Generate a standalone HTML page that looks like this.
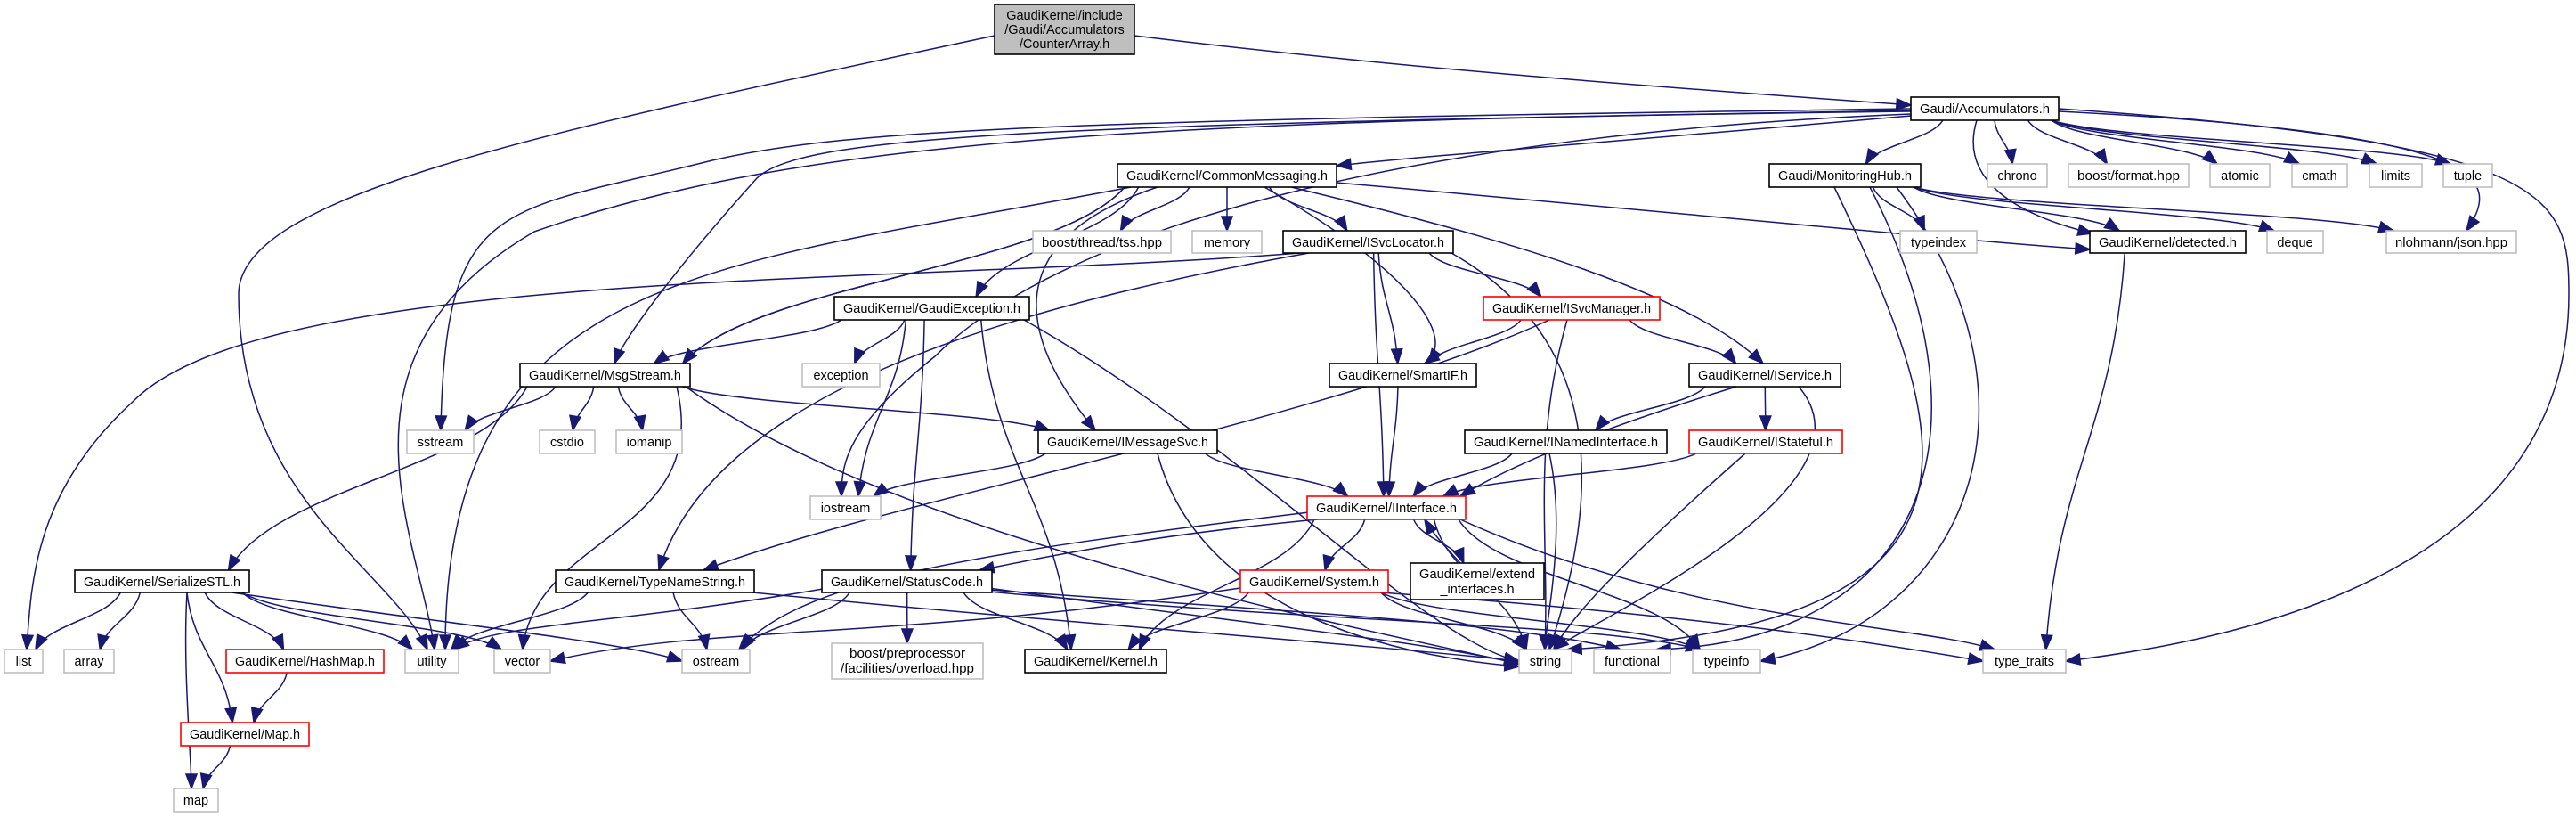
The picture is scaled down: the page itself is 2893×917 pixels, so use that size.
<!DOCTYPE html>
<html><head><meta charset="utf-8"><style>
html,body{margin:0;padding:0;background:#fff;}
svg{display:block;}
text{font-family:"Liberation Sans","DejaVu Sans",sans-serif;font-size:14.5px;fill:#000;}
.n rect{fill:#fff;stroke:#000;stroke-width:1.6;}
.e rect{fill:#fff;stroke:#bfbfbf;stroke-width:1.6;}
.r rect{fill:#fff;stroke:#ff0000;stroke-width:1.6;}
.g rect{fill:#bfbfbf;stroke:#000;stroke-width:1.6;}
</style></head><body>
<svg id="s" width="2893" height="917" viewBox="0 0 2893 917" xmlns="http://www.w3.org/2000/svg">
<g id="edges" fill="none" stroke="#191970" stroke-width="1.5"></g>
<g id="nodes" text-anchor="middle">
<g class="g"><rect x="1117" y="5" width="157" height="56"/><text x="1195.5" y="22">GaudiKernel/include</text><text x="1195.5" y="38">/Gaudi/Accumulators</text><text x="1195.5" y="54">/CounterArray.h</text></g>
<g class="n"><rect x="2146" y="109" width="166" height="26"/><text x="2229" y="127" textLength="146" lengthAdjust="spacingAndGlyphs">Gaudi/Accumulators.h</text></g>
<g class="n"><rect x="1255" y="184" width="246" height="26"/><text x="1378" y="202" textLength="226" lengthAdjust="spacingAndGlyphs">GaudiKernel/CommonMessaging.h</text></g>
<g class="n"><rect x="1987" y="184" width="170" height="26"/><text x="2072" y="202" textLength="150" lengthAdjust="spacingAndGlyphs">Gaudi/MonitoringHub.h</text></g>
<g class="e"><rect x="2232" y="184" width="67" height="26"/><text x="2265.5" y="202">chrono</text></g>
<g class="e"><rect x="2323" y="184" width="135" height="26"/><text x="2390.5" y="202" textLength="115" lengthAdjust="spacingAndGlyphs">boost/format.hpp</text></g>
<g class="e"><rect x="2482" y="184" width="67" height="26"/><text x="2515.5" y="202">atomic</text></g>
<g class="e"><rect x="2574" y="184" width="62" height="26"/><text x="2605" y="202">cmath</text></g>
<g class="e"><rect x="2661" y="184" width="59" height="26"/><text x="2690.5" y="202">limits</text></g>
<g class="e"><rect x="2744" y="184" width="55" height="26"/><text x="2771.5" y="202">tuple</text></g>
<g class="e"><rect x="1160" y="259" width="155" height="25"/><text x="1237.5" y="277" textLength="135" lengthAdjust="spacingAndGlyphs">boost/thread/tss.hpp</text></g>
<g class="e"><rect x="1339" y="259" width="78" height="25"/><text x="1378" y="277">memory</text></g>
<g class="n"><rect x="1441" y="259" width="191" height="25"/><text x="1536.5" y="277" textLength="171" lengthAdjust="spacingAndGlyphs">GaudiKernel/ISvcLocator.h</text></g>
<g class="e"><rect x="2134" y="259" width="86" height="25"/><text x="2177" y="277">typeindex</text></g>
<g class="n"><rect x="2347" y="259" width="175" height="25"/><text x="2434.5" y="277" textLength="155" lengthAdjust="spacingAndGlyphs">GaudiKernel/detected.h</text></g>
<g class="e"><rect x="2546" y="259" width="63" height="25"/><text x="2577.5" y="277">deque</text></g>
<g class="e"><rect x="2680" y="259" width="146" height="25"/><text x="2753" y="277" textLength="126" lengthAdjust="spacingAndGlyphs">nlohmann/json.hpp</text></g>
<g class="n"><rect x="937" y="333" width="219" height="26"/><text x="1046.5" y="351" textLength="199" lengthAdjust="spacingAndGlyphs">GaudiKernel/GaudiException.h</text></g>
<g class="r"><rect x="1666" y="333" width="198" height="26"/><text x="1765" y="351" textLength="178" lengthAdjust="spacingAndGlyphs">GaudiKernel/ISvcManager.h</text></g>
<g class="n"><rect x="584" y="408" width="191" height="26"/><text x="679.5" y="426" textLength="171" lengthAdjust="spacingAndGlyphs">GaudiKernel/MsgStream.h</text></g>
<g class="e"><rect x="901" y="408" width="87" height="26"/><text x="944.5" y="426">exception</text></g>
<g class="n"><rect x="1493" y="408" width="165" height="26"/><text x="1575.5" y="426" textLength="145" lengthAdjust="spacingAndGlyphs">GaudiKernel/SmartIF.h</text></g>
<g class="n"><rect x="1897" y="408" width="170" height="26"/><text x="1982" y="426" textLength="150" lengthAdjust="spacingAndGlyphs">GaudiKernel/IService.h</text></g>
<g class="e"><rect x="457" y="483" width="75" height="26"/><text x="494.5" y="501">sstream</text></g>
<g class="e"><rect x="606" y="483" width="62" height="26"/><text x="637" y="501">cstdio</text></g>
<g class="e"><rect x="692" y="483" width="74" height="26"/><text x="729" y="501">iomanip</text></g>
<g class="n"><rect x="1166" y="483" width="201" height="26"/><text x="1266.5" y="501" textLength="181" lengthAdjust="spacingAndGlyphs">GaudiKernel/IMessageSvc.h</text></g>
<g class="n"><rect x="1645" y="483" width="227" height="26"/><text x="1758.5" y="501" textLength="207" lengthAdjust="spacingAndGlyphs">GaudiKernel/INamedInterface.h</text></g>
<g class="r"><rect x="1897" y="483" width="172" height="26"/><text x="1983" y="501" textLength="152" lengthAdjust="spacingAndGlyphs">GaudiKernel/IStateful.h</text></g>
<g class="e"><rect x="910" y="557" width="79" height="26"/><text x="949.5" y="575">iostream</text></g>
<g class="r"><rect x="1468" y="557" width="178" height="26"/><text x="1557" y="575" textLength="158" lengthAdjust="spacingAndGlyphs">GaudiKernel/IInterface.h</text></g>
<g class="n"><rect x="84" y="640" width="196" height="25"/><text x="182" y="658" textLength="176" lengthAdjust="spacingAndGlyphs">GaudiKernel/SerializeSTL.h</text></g>
<g class="n"><rect x="624" y="640" width="223" height="25"/><text x="735.5" y="658" textLength="203" lengthAdjust="spacingAndGlyphs">GaudiKernel/TypeNameString.h</text></g>
<g class="n"><rect x="923" y="640" width="191" height="25"/><text x="1018.5" y="658" textLength="171" lengthAdjust="spacingAndGlyphs">GaudiKernel/StatusCode.h</text></g>
<g class="r"><rect x="1393" y="640" width="166" height="25"/><text x="1476" y="658" textLength="146" lengthAdjust="spacingAndGlyphs">GaudiKernel/System.h</text></g>
<g class="n"><rect x="1584" y="632" width="150" height="41"/><text x="1659" y="649" textLength="130" lengthAdjust="spacingAndGlyphs">GaudiKernel/extend</text><text x="1659" y="666">_interfaces.h</text></g>
<g class="e"><rect x="5" y="729" width="43" height="26"/><text x="26.5" y="747">list</text></g>
<g class="e"><rect x="72" y="729" width="56" height="26"/><text x="100" y="747">array</text></g>
<g class="r"><rect x="254" y="729" width="177" height="26"/><text x="342.5" y="747" textLength="157" lengthAdjust="spacingAndGlyphs">GaudiKernel/HashMap.h</text></g>
<g class="e"><rect x="455" y="729" width="60" height="26"/><text x="485" y="747">utility</text></g>
<g class="e"><rect x="555" y="729" width="63" height="26"/><text x="586.5" y="747">vector</text></g>
<g class="e"><rect x="766" y="729" width="76" height="26"/><text x="804" y="747">ostream</text></g>
<g class="e"><rect x="934" y="722" width="170" height="40"/><text x="1019" y="738" textLength="130" lengthAdjust="spacingAndGlyphs">boost/preprocessor</text><text x="1019" y="755" textLength="150" lengthAdjust="spacingAndGlyphs">/facilities/overload.hpp</text></g>
<g class="n"><rect x="1151" y="729" width="159" height="26"/><text x="1230.5" y="747" textLength="139" lengthAdjust="spacingAndGlyphs">GaudiKernel/Kernel.h</text></g>
<g class="e"><rect x="1706" y="729" width="59" height="26"/><text x="1735.5" y="747">string</text></g>
<g class="e"><rect x="1790" y="729" width="86" height="26"/><text x="1833" y="747">functional</text></g>
<g class="e"><rect x="1901" y="729" width="76" height="26"/><text x="1939" y="747">typeinfo</text></g>
<g class="e"><rect x="2227" y="729" width="93" height="26"/><text x="2273.5" y="747">type_traits</text></g>
<g class="r"><rect x="203" y="811" width="144" height="26"/><text x="275" y="829" textLength="124" lengthAdjust="spacingAndGlyphs">GaudiKernel/Map.h</text></g>
<g class="e"><rect x="195" y="885" width="50" height="26"/><text x="220" y="903">map</text></g>
</g>
</svg>
<script>
var N={CA:[1117,1274,5,61],ACC:[2146,2312,109,135],CM:[1255,1501,184,210],MH:[1987,2157,184,210],chrono:[2232,2299,184,210],bfmt:[2323,2458,184,210],atomic:[2482,2549,184,210],cmath:[2574,2636,184,210],limits:[2661,2720,184,210],tuple:[2744,2799,184,210],
tss:[1160,1315,259,284],memory:[1339,1417,259,284],SL:[1441,1632,259,284],typeindex:[2134,2220,259,284],det:[2347,2522,259,284],deque:[2546,2609,259,284],json:[2680,2826,259,284],
GE:[937,1156,333,359],SM:[1666,1864,333,359],MS:[584,775,408,434],exc:[901,988,408,434],SI:[1493,1658,408,434],IS:[1897,2067,408,434],
sstream:[457,532,483,509],cstdio:[606,668,483,509],iomanip:[692,766,483,509],IMS:[1166,1367,483,509],INI:[1645,1872,483,509],IST:[1897,2069,483,509],
iostream:[910,989,557,583],II:[1468,1646,557,583],SSTL:[84,280,640,665],TNS:[624,847,640,665],SC:[923,1114,640,665],SYS:[1393,1559,640,665],EXT:[1584,1734,632,673],
list:[5,48,729,755],array:[72,128,729,755],HM:[254,431,729,755],utility:[455,515,729,755],vector:[555,618,729,755],ostream:[766,842,729,755],bpp:[934,1104,722,762],KER:[1151,1310,729,755],
string:[1706,1765,729,755],functional:[1790,1876,729,755],typeinfo:[1901,1977,729,755],tt:[2227,2320,729,755],MAP:[203,347,811,837],map:[195,245,885,911]};
var E=[
['ACC','CM',[2146,130,1800,160,1600,175,1501,186]],['ACC','MH'],['ACC','chrono'],['ACC','bfmt'],['ACC','atomic'],['ACC','cmath'],['ACC','limits'],['ACC','tuple'],
['ACC','det',[2220,135,2200,200,2260,240,2350,262]],['ACC','json',[2312,125,2800,150,2810,200,2770,259]],
['ACC','tt',[2312,122,2870,160,2885,220,2885,330],[2885,330,2885,650,2500,720,2320,742]],
['ACC','sstream',[2146,122,1200,135,950,145,800,180],[800,180,560,240,500,220,495,483]],
['ACC','MS',[2146,124,1200,140,900,150,850,200],[850,200,760,300,700,380,690,408]],
['ACC','utility',[2146,125,1300,135,900,155,600,260],[600,260,360,400,470,600,488,729]],
['ACC','iostream',[2146,128,1600,150,1200,250,1050,400],[1050,400,950,480,945,520,945,557]],
['CM','tss'],['CM','memory'],['CM','SL'],['CM','GE'],['CM','MS'],['CM','IMS',[1300,210,1150,260,1120,350,1230,483]],['CM','SI',[1420,210,1580,300,1640,380,1600,408]],['CM','IS',[1450,210,1700,270,1900,330,1980,408]],
['CM','det',[1501,205,1900,240,2200,270,2347,280]],
['CM','utility',[1270,210,800,300,500,300,500,729]],['CM','MS'],
['MH','typeindex'],['MH','det'],['MH','deque'],['MH','json'],
['MH','string',[2060,210,2200,500,2260,700,1760,729]],['MH','functional',[2100,210,2250,500,2150,720,1860,729]],['MH','typeinfo',[2130,210,2310,450,2210,700,1977,742]],
['SL','list',[1460,284,1000,320,300,300,150,450],[150,450,40,550,35,650,30,729]],['SL','TNS',[1470,284,1100,350,800,450,740,640]],['SL','SI'],['SL','SM'],['SL','II'],['SL','string',[1630,284,1800,380,1800,550,1740,729]],
['GE','MS'],['GE','exc'],['GE','iostream'],['GE','SC'],['GE','KER'],['GE','string',[1150,359,1400,500,1600,720,1706,742]],
['SM','SI'],['SM','IS'],['SM','TNS',[1740,359,1500,470,1000,560,790,640]],['SM','string',[1760,359,1720,500,1740,600,1735,729]],
['IS','INI'],['IS','IST'],['IS','II',[1950,434,1800,480,1700,520,1640,557]],['IS','string',[2020,434,2120,550,1780,700,1745,729]],
['SI','II'],
['MS','sstream'],['MS','cstdio'],['MS','iomanip'],['MS','SSTL'],['MS','IMS'],['MS','vector',[760,434,800,600,600,600,587,729]],['MS','string',[770,434,1000,600,1500,700,1706,745]],
['IMS','iostream'],['IMS','II'],['IMS','string',[1300,509,1350,700,1600,740,1706,748]],
['INI','II'],['INI','string',[1740,509,1760,600,1735,700,1735,729]],['IST','II'],['IST','string',[1960,509,1800,650,1760,700,1745,729]],
['II','SYS'],['II','EXT'],['II','SC',[1480,583,1300,600,1200,620,1100,640]],['II','KER'],['II','ostream',[1470,575,1100,620,900,650,830,729]],
['II','typeinfo'],['II','tt',[1640,583,1900,700,2150,700,2240,729]],['II','string'],
['EXT','II',[1640,632,1620,610,1610,600,1600,583]],
['SYS','KER'],['SYS','string'],['SYS','vector',[1393,660,1000,720,800,700,618,742]],['SYS','typeinfo'],['SYS','tt',[1550,665,1900,690,2100,720,2227,742]],
['SC','bpp'],['SC','ostream'],['SC','utility',[930,660,700,700,550,700,510,729]],['SC','KER'],['SC','string',[1110,660,1400,700,1600,720,1706,745]],['SC','functional',[1110,662,1500,690,1700,700,1820,729]],['SC','typeinfo',[1110,664,1500,700,1800,700,1910,729]],
['TNS','ostream'],['TNS','utility'],['TNS','string',[845,665,1200,700,1500,720,1706,742]],
['SSTL','list'],['SSTL','array'],['SSTL','HM'],['SSTL','MAP'],['SSTL','map',[210,665,205,750,215,850,215,885]],['SSTL','utility'],['SSTL','vector'],['SSTL','ostream',[260,665,500,700,700,720,766,742]],
['HM','MAP'],['MAP','map'],['det','tt'],
['CA','ACC',[1274,40,1600,80,1900,100,2146,118]],
['CA','utility',[1117,40,600,150,268,220,268,330],[268,330,268,560,440,640,480,729]]
];
var G=document.getElementById('edges'),ns='http://www.w3.org/2000/svg';
function cl(v,a,b){return Math.max(a,Math.min(b,v));}
function draw(d,p){
 var pa=document.createElementNS(ns,'path');pa.setAttribute('d',d);G.appendChild(pa);
 var x=p[6],y=p[7],dx=x-p[4],dy=y-p[5];if(dx==0&&dy==0){dx=x-p[0];dy=y-p[1];}
 var L=Math.sqrt(dx*dx+dy*dy)||1;dx/=L;dy/=L;var h=16,w=6;
 var bx=x-dx*h,by=y-dy*h;
 var t=document.createElementNS(ns,'path');
 t.setAttribute('d','M'+x+','+y+'L'+(bx-dy*w)+','+(by+dx*w)+'L'+(bx+dy*w)+','+(by-dx*w)+'Z');
 t.setAttribute('fill','#191970');G.appendChild(t);
}
E.forEach(function(e){
 var s=N[e[0]],t=N[e[1]];
 if(e[2]){var d='M'+e[2][0]+','+e[2][1]+'C'+e[2].slice(2).join(','),last=e[2];
  if(e[3]){d+='C'+e[3].slice(2).join(',');last=e[3];}
  draw(d,last);return;}
 var scx=(s[0]+s[1])/2,tcx=(t[0]+t[1])/2;
 var sx=cl(scx+(tcx-scx)*0.3,s[0]+8,s[1]-8),sy=s[3];
 var tx=cl(tcx+(scx-tcx)*0.15,t[0]+8,t[1]-8),ty=t[2];
 var dy=(ty-sy)*0.45;
 var p=[sx,sy,sx+(tx-sx)*0.15,sy+dy,tx-(tx-sx)*0.15,ty-dy,tx,ty];
 draw('M'+p[0]+','+p[1]+'C'+p.slice(2).join(','),p);
});
</script>
</body></html>
